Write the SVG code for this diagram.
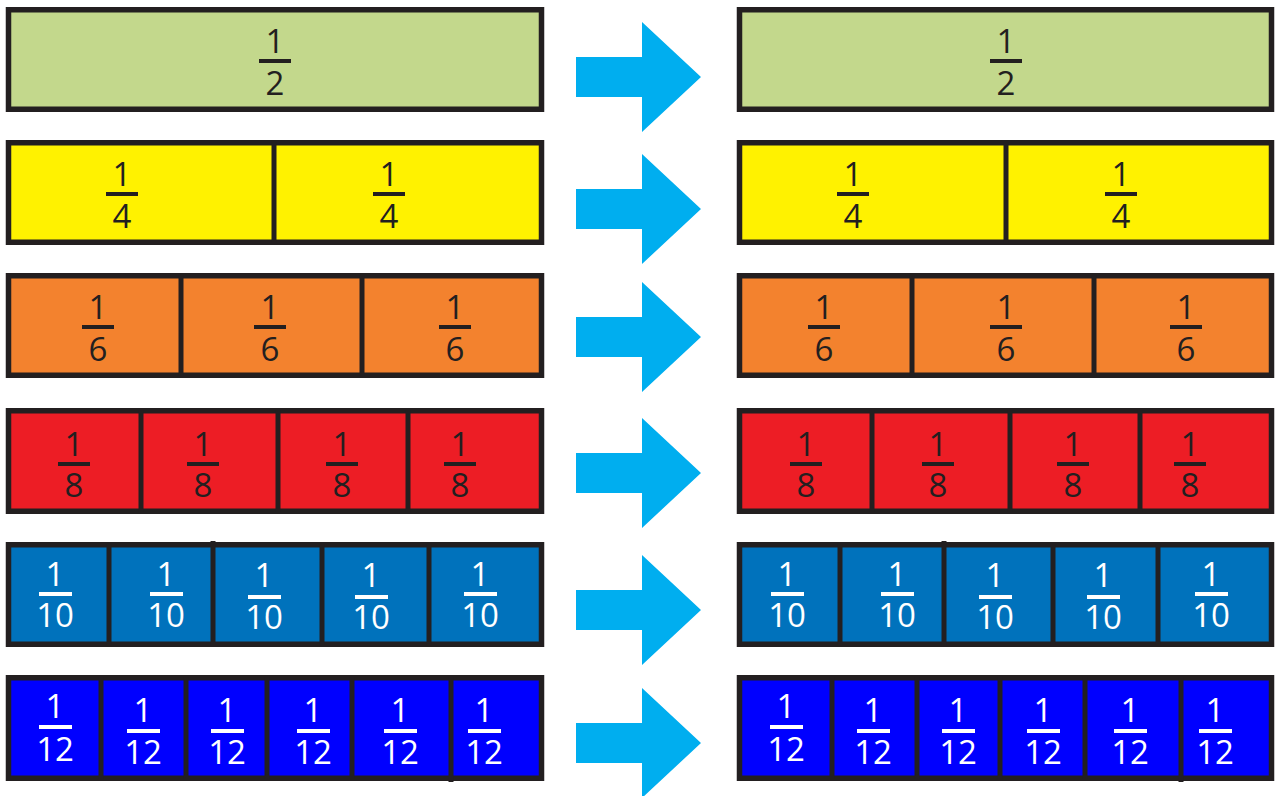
<svg xmlns="http://www.w3.org/2000/svg" width="1277" height="796" viewBox="0 0 1277 796">
<style>
.bar{stroke:#231f20;stroke-width:5.5}
.div{stroke:#231f20;stroke-width:5}
.num{font-family:"Open Sans","Liberation Sans",sans-serif;font-size:33px;text-anchor:middle;fill:#231f20}
.w{fill:#ffffff;font-weight:500}
.fl{stroke:#231f20;stroke-width:4}
.fw{stroke:#ffffff;stroke-width:4}
.arrow{fill:#00aeef}
</style>
<defs>
<path id="arr" d="M-125,-20 H-59 V-55 L0,0 L-59,55 V20 H-125 Z"/>
</defs>
<rect width="1277" height="796" fill="#ffffff"/>

<!-- Row 1 -->
<g id="row1-left">
<rect class="bar" x="8.5" y="9.75" width="533" height="99.5" fill="#c3d88c"/>
<text class="num" x="275" y="53">1</text><line class="fl" x1="259" y1="61" x2="291" y2="61"/><text class="num" x="275" y="95">2</text>
</g>
<g id="row1-right">
<rect class="bar" x="739.5" y="9.75" width="532" height="99.5" fill="#c3d88c"/>
<text class="num" x="1006" y="53">1</text><line class="fl" x1="990" y1="61" x2="1022" y2="61"/><text class="num" x="1006" y="95">2</text>
</g>

<!-- Row 2 -->
<g id="row2-left">
<rect class="bar" x="8.5" y="142.75" width="533" height="99.5" fill="#fff200"/>
<line class="div" x1="274" y1="142" x2="274" y2="243"/>
<text class="num" x="122" y="186">1</text><line class="fl" x1="106" y1="194" x2="138" y2="194"/><text class="num" x="122" y="228">4</text>
<text class="num" x="389" y="186">1</text><line class="fl" x1="373" y1="194" x2="405" y2="194"/><text class="num" x="389" y="228">4</text>
</g>
<g id="row2-right">
<rect class="bar" x="739.5" y="142.75" width="532" height="99.5" fill="#fff200"/>
<line class="div" x1="1006" y1="142" x2="1006" y2="243"/>
<text class="num" x="853" y="186">1</text><line class="fl" x1="837" y1="194" x2="869" y2="194"/><text class="num" x="853" y="228">4</text>
<text class="num" x="1121" y="186">1</text><line class="fl" x1="1105" y1="194" x2="1137" y2="194"/><text class="num" x="1121" y="228">4</text>
</g>

<!-- Row 3 -->
<g id="row3-left">
<rect class="bar" x="8.5" y="275.75" width="533" height="99.5" fill="#f3822e"/>
<line class="div" x1="181" y1="275" x2="181" y2="376"/>
<line class="div" x1="362" y1="275" x2="362" y2="376"/>
<text class="num" x="98" y="319">1</text><line class="fl" x1="82" y1="327" x2="114" y2="327"/><text class="num" x="98" y="361">6</text>
<text class="num" x="270" y="319">1</text><line class="fl" x1="254" y1="327" x2="286" y2="327"/><text class="num" x="270" y="361">6</text>
<text class="num" x="455" y="319">1</text><line class="fl" x1="439" y1="327" x2="471" y2="327"/><text class="num" x="455" y="361">6</text>
</g>
<g id="row3-right">
<rect class="bar" x="739.5" y="275.75" width="532" height="99.5" fill="#f3822e"/>
<line class="div" x1="912" y1="275" x2="912" y2="376"/>
<line class="div" x1="1094" y1="275" x2="1094" y2="376"/>
<text class="num" x="824" y="319">1</text><line class="fl" x1="808" y1="327" x2="840" y2="327"/><text class="num" x="824" y="361">6</text>
<text class="num" x="1006" y="319">1</text><line class="fl" x1="990" y1="327" x2="1022" y2="327"/><text class="num" x="1006" y="361">6</text>
<text class="num" x="1186" y="319">1</text><line class="fl" x1="1170" y1="327" x2="1202" y2="327"/><text class="num" x="1186" y="361">6</text>
</g>

<!-- Row 4 -->
<g id="row4-left">
<rect class="bar" x="8.5" y="410.75" width="533" height="100.5" fill="#ed1d25"/>
<line class="div" x1="141" y1="410" x2="141" y2="512"/>
<line class="div" x1="278" y1="410" x2="278" y2="512"/>
<line class="div" x1="408" y1="410" x2="408" y2="512"/>
<text class="num" x="74" y="456">1</text><line class="fl" x1="58" y1="464" x2="90" y2="464"/><text class="num" x="74" y="497">8</text>
<text class="num" x="203" y="456">1</text><line class="fl" x1="187" y1="464" x2="219" y2="464"/><text class="num" x="203" y="497">8</text>
<text class="num" x="342" y="456">1</text><line class="fl" x1="326" y1="464" x2="358" y2="464"/><text class="num" x="342" y="497">8</text>
<text class="num" x="460" y="456">1</text><line class="fl" x1="444" y1="464" x2="476" y2="464"/><text class="num" x="460" y="497">8</text>
</g>
<g id="row4-right">
<rect class="bar" x="739.5" y="410.75" width="532" height="100.5" fill="#ed1d25"/>
<line class="div" x1="872" y1="410" x2="872" y2="512"/>
<line class="div" x1="1010" y1="410" x2="1010" y2="512"/>
<line class="div" x1="1140" y1="410" x2="1140" y2="512"/>
<text class="num" x="806" y="456">1</text><line class="fl" x1="790" y1="464" x2="822" y2="464"/><text class="num" x="806" y="497">8</text>
<text class="num" x="938" y="456">1</text><line class="fl" x1="922" y1="464" x2="954" y2="464"/><text class="num" x="938" y="497">8</text>
<text class="num" x="1073" y="456">1</text><line class="fl" x1="1057" y1="464" x2="1089" y2="464"/><text class="num" x="1073" y="497">8</text>
<text class="num" x="1190" y="456">1</text><line class="fl" x1="1174" y1="464" x2="1206" y2="464"/><text class="num" x="1190" y="497">8</text>
</g>

<!-- Row 5 -->
<g id="row5-left">
<rect class="bar" x="8.5" y="544.75" width="533" height="99.5" fill="#0072bc"/>
<line class="div" x1="109" y1="544" x2="109" y2="645"/>
<line class="div" x1="213" y1="541" x2="213" y2="645"/>
<line class="div" x1="322" y1="544" x2="322" y2="645"/>
<line class="div" x1="429" y1="544" x2="429" y2="645"/>
<text class="num w" x="55" y="586">1</text><line class="fw" x1="39" y1="594" x2="72" y2="594"/><text class="num w" x="55" y="627">10</text>
<text class="num w" x="166" y="586">1</text><line class="fw" x1="150" y1="594" x2="183" y2="594"/><text class="num w" x="166" y="627">10</text>
<text class="num w" x="264" y="587">1</text><line class="fw" x1="248" y1="597" x2="281" y2="597"/><text class="num w" x="264" y="629">10</text>
<text class="num w" x="371" y="587">1</text><line class="fw" x1="355" y1="597" x2="388" y2="597"/><text class="num w" x="371" y="629">10</text>
<text class="num w" x="480" y="586">1</text><line class="fw" x1="464" y1="594" x2="497" y2="594"/><text class="num w" x="480" y="627">10</text>
</g>
<g id="row5-right">
<rect class="bar" x="739.5" y="544.75" width="532" height="99.5" fill="#0072bc"/>
<line class="div" x1="840" y1="544" x2="840" y2="645"/>
<line class="div" x1="944" y1="541" x2="944" y2="645"/>
<line class="div" x1="1053" y1="544" x2="1053" y2="645"/>
<line class="div" x1="1158" y1="544" x2="1158" y2="645"/>
<text class="num w" x="787" y="586">1</text><line class="fw" x1="771" y1="594" x2="804" y2="594"/><text class="num w" x="787" y="627">10</text>
<text class="num w" x="897" y="586">1</text><line class="fw" x1="881" y1="594" x2="914" y2="594"/><text class="num w" x="897" y="627">10</text>
<text class="num w" x="995" y="587">1</text><line class="fw" x1="979" y1="597" x2="1012" y2="597"/><text class="num w" x="995" y="629">10</text>
<text class="num w" x="1103" y="587">1</text><line class="fw" x1="1087" y1="597" x2="1120" y2="597"/><text class="num w" x="1103" y="629">10</text>
<text class="num w" x="1211" y="586">1</text><line class="fw" x1="1195" y1="594" x2="1228" y2="594"/><text class="num w" x="1211" y="627">10</text>
</g>

<!-- Row 6 -->
<g id="row6-left">
<rect class="bar" x="8.5" y="677.75" width="533" height="100.5" fill="#0000ff"/>
<line class="div" x1="101" y1="677" x2="101" y2="779"/>
<line class="div" x1="186" y1="677" x2="186" y2="779"/>
<line class="div" x1="267" y1="677" x2="267" y2="779"/>
<line class="div" x1="352" y1="677" x2="352" y2="779"/>
<line class="div" x1="451" y1="677" x2="451" y2="782"/>
<text class="num w" x="55" y="718">1</text><line class="fw" x1="39" y1="727" x2="72" y2="727"/><text class="num w" x="55" y="761">12</text>
<text class="num w" x="143" y="722">1</text><line class="fw" x1="127" y1="731" x2="160" y2="731"/><text class="num w" x="143" y="764">12</text>
<text class="num w" x="227" y="722">1</text><line class="fw" x1="211" y1="731" x2="244" y2="731"/><text class="num w" x="227" y="764">12</text>
<text class="num w" x="313" y="722">1</text><line class="fw" x1="297" y1="731" x2="330" y2="731"/><text class="num w" x="313" y="764">12</text>
<text class="num w" x="400" y="722">1</text><line class="fw" x1="384" y1="731" x2="417" y2="731"/><text class="num w" x="400" y="764">12</text>
<text class="num w" x="484" y="722">1</text><line class="fw" x1="468" y1="731" x2="501" y2="731"/><text class="num w" x="484" y="764">12</text>
</g>
<g id="row6-right">
<rect class="bar" x="739.5" y="677.75" width="532" height="100.5" fill="#0000ff"/>
<line class="div" x1="832" y1="677" x2="832" y2="779"/>
<line class="div" x1="917" y1="677" x2="917" y2="779"/>
<line class="div" x1="1000" y1="677" x2="1000" y2="779"/>
<line class="div" x1="1085" y1="677" x2="1085" y2="779"/>
<line class="div" x1="1181" y1="677" x2="1181" y2="782"/>
<text class="num w" x="786" y="718">1</text><line class="fw" x1="770" y1="727" x2="803" y2="727"/><text class="num w" x="786" y="761">12</text>
<text class="num w" x="873" y="722">1</text><line class="fw" x1="857" y1="731" x2="890" y2="731"/><text class="num w" x="873" y="764">12</text>
<text class="num w" x="958" y="722">1</text><line class="fw" x1="942" y1="731" x2="975" y2="731"/><text class="num w" x="958" y="764">12</text>
<text class="num w" x="1043" y="722">1</text><line class="fw" x1="1027" y1="731" x2="1060" y2="731"/><text class="num w" x="1043" y="764">12</text>
<text class="num w" x="1130" y="722">1</text><line class="fw" x1="1114" y1="731" x2="1147" y2="731"/><text class="num w" x="1130" y="764">12</text>
<text class="num w" x="1215" y="722">1</text><line class="fw" x1="1199" y1="731" x2="1232" y2="731"/><text class="num w" x="1215" y="764">12</text>
</g>

<!-- Connectors -->
<g id="connectors">
<use href="#arr" class="arrow" transform="translate(701,77)"/>
<use href="#arr" class="arrow" transform="translate(701,209)"/>
<use href="#arr" class="arrow" transform="translate(701,337)"/>
<use href="#arr" class="arrow" transform="translate(701,473)"/>
<use href="#arr" class="arrow" transform="translate(701,610)"/>
<use href="#arr" class="arrow" transform="translate(701,743)"/>
</g>
</svg>
